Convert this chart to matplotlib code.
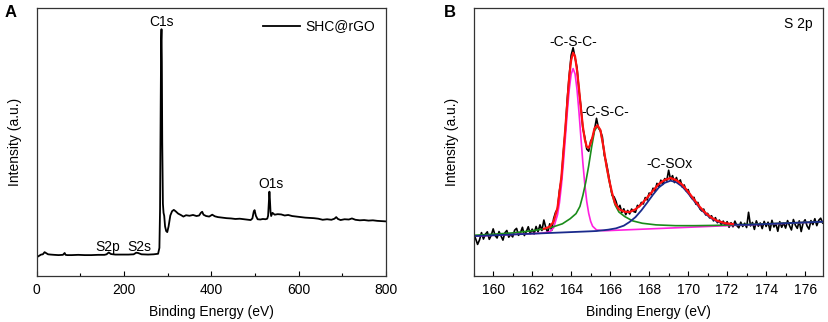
import numpy as np
import matplotlib
matplotlib.use("Agg")
import matplotlib.pyplot as plt
from matplotlib.ticker import MultipleLocator

plt.rcParams["font.family"] = ["Liberation Sans", "DejaVu Sans"]

# ---- Panel A: survey spectrum (intensity in arbitrary units, 0-100 of the axis) ----
survey_ev = [0, 3, 6, 10, 14, 18, 22, 26, 32, 40, 50, 60, 64, 66, 70, 80, 95, 110, 125, 140,
             155, 160, 165, 170, 180, 195, 210, 222, 228, 232, 240, 255, 268, 278, 281, 282.5,
             284, 285, 285.8, 286.6, 287.5, 289, 290.5, 292, 294, 296.5, 299, 302, 306, 310,
             314, 318, 324, 330, 336, 342, 350, 358, 366, 372, 376, 379, 382, 388, 395, 402,
             408, 415, 425, 435, 445, 455, 465, 475, 485, 490, 494, 497, 499, 502, 506, 512,
             518, 524, 528, 530, 531.5, 533, 534, 535.5, 537, 540, 545, 552, 560, 568, 576,
             585, 595, 605, 615, 625, 635, 645, 655, 665, 675, 682, 686, 690, 696, 705, 715,
             722, 730, 740, 750, 760, 770, 780, 790, 800]
survey_int = [7.0, 7.3, 7.6, 8.0, 8.1, 8.9, 8.5, 8.1, 8.0, 7.9, 7.8, 7.9, 8.6, 7.9, 7.8, 7.8,
              7.9, 7.8, 7.8, 7.9, 7.9, 8.1, 8.8, 8.2, 8.0, 8.0, 8.0, 8.1, 8.7, 8.6, 8.1, 8.0,
              8.1, 8.3, 10.5, 25.0, 65.0, 88.0, 92.2, 80.0, 50.0, 27.0, 23.6, 22.5, 18.5, 16.8,
              16.4, 18.5, 22.6, 24.2, 24.7, 24.2, 23.3, 22.8, 22.2, 22.7, 22.5, 22.8, 22.4,
              22.6, 23.6, 24.0, 22.9, 22.4, 22.2, 22.9, 22.3, 22.0, 21.8, 21.6, 21.5, 21.3,
              21.4, 21.2, 21.0, 20.9, 21.5, 24.0, 24.6, 22.5, 21.2, 21.1, 21.3, 21.2, 21.4,
              22.5, 27.0, 31.5, 29.0, 24.0, 22.4, 23.6, 22.9, 23.1, 23.0, 22.6, 22.8, 22.4,
              22.2, 22.0, 21.8, 21.7, 21.6, 21.4, 21.0, 21.2, 21.0, 21.4, 22.0, 21.3, 20.9,
              21.2, 21.1, 21.5, 21.0, 20.8, 20.9, 20.7, 20.8, 20.6, 20.5, 20.4]
survey_peaks = ["C1s", "O1s", "S2p", "S2s"]
survey_peak_pos = [(285, 95.0), (536, 34.3), (161.7, 10.9), (235, 10.9)]

# ---- Panel B: S 2p high resolution ----
s2p_ev = [round(159.0 + 0.1 * i, 1) for i in range(180)]
s2p_raw = [
    15.8, 13.9, 11.8, 13.5, 16.2, 13.8, 15.6, 16.5, 13.7, 15.2,
    17.6, 15.1, 14.2, 16.6, 15.0, 13.4, 16.1, 17.0, 14.5, 15.5,
    14.6, 17.1, 17.8, 15.2, 16.2, 18.2, 15.1, 16.6, 18.4, 15.8,
    17.5, 15.7, 18.5, 16.5, 19.1, 17.0, 20.9, 18.0, 16.2, 19.5,
    17.0, 21.4, 23.8, 25.0, 31.9, 36.2, 46.3, 54.4, 66.1, 74.9,
    82.5, 85.3, 81.6, 77.8, 69.4, 63.3, 55.1, 51.8, 47.4, 46.6,
    50.4, 51.6, 54.8, 58.9, 55.3, 54.2, 52.0, 45.1, 42.5, 38.6,
    34.2, 30.1, 29.6, 27.9, 25.3, 26.4, 23.7, 25.1, 22.9, 24.5,
    23.2, 25.0, 24.1, 23.8, 26.4, 25.9, 27.5, 26.9, 29.3, 28.4,
    31.0, 30.4, 32.8, 31.7, 34.6, 33.3, 35.8, 34.2, 36.4, 35.5,
    39.5, 36.0, 37.5, 34.9, 36.8, 34.6, 35.9, 33.2, 34.0, 31.8,
    32.3, 30.1, 28.9, 29.4, 26.8, 27.5, 25.1, 24.3, 25.0, 22.8,
    23.4, 21.7, 22.5, 20.6, 21.8, 19.9, 20.9, 19.2, 20.5, 18.9,
    20.3, 18.2, 19.9, 18.4, 20.5, 18.8, 18.0, 20.1, 18.5, 19.7,
    18.1, 23.8, 18.7, 20.0, 17.4, 20.6, 18.6, 19.8, 17.7, 20.4,
    18.5, 20.1, 17.0, 20.8, 18.3, 19.5, 16.7, 20.3, 18.2, 19.8,
    17.9, 20.7, 18.8, 17.2, 21.1, 19.0, 17.8, 20.6, 16.6, 19.9,
    21.0, 18.7, 17.5, 20.7, 19.2, 21.4, 18.8, 20.8, 21.6, 19.8,
]

# fitted envelope
fit_ev = [162.6, 162.9, 163.1, 163.3, 163.5, 163.7, 163.9, 164.0, 164.1, 164.2, 164.3, 164.4,
          164.5, 164.6, 164.7, 164.8, 164.9, 165.0, 165.1, 165.2, 165.35, 165.5, 165.65, 165.8,
          165.95, 166.1, 166.25, 166.45, 166.75, 167.0, 167.3, 167.6, 167.9, 168.2, 168.5,
          168.8, 169.1, 169.4, 169.7, 170.0, 170.3, 170.6, 170.9, 171.2, 171.5, 171.9, 172.3]
fit_sum = [17.6, 18.4, 20.3, 25.5, 37.0, 55.1, 74.3, 80.7, 83.4, 82.0, 76.9, 70.1, 62.5, 55.8,
           51.0, 48.3, 47.9, 49.6, 52.1, 55.2, 56.3, 54.5, 48.5, 41.6, 35.8, 31.0, 27.2, 24.9,
           24.0, 23.9, 24.9, 26.8, 29.3, 31.9, 34.4, 35.9, 36.6, 35.8, 34.1, 31.5, 28.6, 25.8,
           23.5, 21.8, 20.6, 19.7, 19.4]

# -C-S-C- component 1 (magenta)
css1_ev = [159, 162.5, 162.9, 163.1, 163.3, 163.4, 163.5, 163.6, 163.7, 163.8, 163.9, 164.0,
           164.1, 164.2, 164.3, 164.4, 164.5, 164.6, 164.7, 164.8, 164.9, 165.0, 165.1, 165.3,
           165.7, 177]
css1_int = [14.9, 16.0, 16.5, 18.0, 22.9, 27.4, 33.9, 42.0, 51.4, 61.1, 69.6, 75.4, 77.5, 75.5,
            69.7, 61.3, 51.7, 42.3, 34.2, 27.8, 23.4, 20.4, 18.6, 17.2, 16.9, 20.3]

# -C-S-C- component 2 (green)
css2_ev = [159, 160, 161, 162, 162.6, 163.05, 163.55, 163.95, 164.25, 164.45, 164.6, 164.75,
           164.9, 165.05, 165.2, 165.35, 165.5, 165.65, 165.8, 165.95, 166.1, 166.25, 166.45,
           166.75, 167.15, 167.65, 168.35, 169.35, 170.35, 171.35, 173.35, 177]
css2_int = [15.2, 15.6, 16.1, 16.9, 17.6, 18.3, 19.5, 21.4, 23.3, 26.0, 30.1, 35.1, 41.2, 48.2,
            54.3, 56.0, 54.4, 48.4, 41.4, 35.5, 30.5, 26.6, 23.9, 22.2, 20.6, 19.7, 19.1, 18.8,
            18.8, 18.9, 19.3, 20.3]

# -C-SOx component on the linear background (blue)
csox_ev = [159, 165.0, 165.3, 165.9, 166.3, 166.7, 167.0, 167.3, 167.6, 167.9, 168.2, 168.5,
           168.8, 169.1, 169.4, 169.7, 170.0, 170.3, 170.6, 170.9, 171.2, 171.5, 171.9, 172.3,
           172.9, 177]
csox_int = [14.9, 16.7, 16.8, 17.3, 17.8, 18.8, 20.2, 22.0, 24.5, 27.4, 30.4, 33.1, 34.8, 35.6,
            35.0, 33.4, 30.9, 28.1, 25.4, 23.1, 21.5, 20.3, 19.5, 19.2, 19.1, 20.3]

s2p_labels = ["-C-S-C-", "-C-S-C-", "-C-SOx"]
s2p_label_pos = [(164.1, 87.4), (165.75, 61.1), (169.05, 41.7)]

fig = plt.figure(figsize=(8.29, 3.22), dpi=100)
ax1 = fig.add_axes([0.0443, 0.1429, 0.4213, 0.8312])
ax2 = fig.add_axes([0.5714, 0.1429, 0.4214, 0.8312])

# Panel A
ax1.plot(survey_ev, survey_int, color="black", lw=1.3, label="SHC@rGO")
for name, (x, y) in zip(survey_peaks, survey_peak_pos):
    ax1.text(x, y, name, ha="center", va="center", fontsize=10)
ax1.set_xlim(0, 800)
ax1.set_ylim(0, 100)
ax1.xaxis.set_major_locator(MultipleLocator(200))
ax1.xaxis.set_minor_locator(MultipleLocator(100))
ax1.legend(loc="upper right", frameon=False, fontsize=10, handlelength=2.6,
           handletextpad=0.4, borderaxespad=0.4)

# Panel B
ax2.plot(s2p_ev, s2p_raw, color="black", lw=1.2)
ax2.plot(css1_ev, css1_int, color="#ff20e0", lw=1.2)
ax2.plot(css2_ev, css2_int, color="#1a8c1a", lw=1.2)
ax2.plot(csox_ev, csox_int, color="#1a2a8c", lw=1.3)
ax2.plot(fit_ev, fit_sum, color="#ff1010", lw=1.6)
for name, (x, y) in zip(s2p_labels, s2p_label_pos):
    ax2.text(x, y, name, ha="center", va="center", fontsize=10)
ax2.text(175.67, 94, "S 2p", ha="center", va="center", fontsize=10)
ax2.set_xlim(159, 176.92)
ax2.set_ylim(0, 100)
ax2.xaxis.set_major_locator(MultipleLocator(2))
ax2.xaxis.set_minor_locator(MultipleLocator(1))

for ax in (ax1, ax2):
    ax.set_yticks([])
    ax.tick_params(axis="x", which="both", direction="in", labelsize=10, pad=5)
    ax.tick_params(axis="x", which="major", length=3.5, width=0.8)
    ax.tick_params(axis="x", which="minor", length=2.5, width=0.8)
    ax.set_xlabel("Binding Energy (eV)", fontsize=10, labelpad=6)
    ax.set_ylabel("Intensity (a.u.)", fontsize=10, labelpad=10.5)
    for sp in ax.spines.values():
        sp.set_color("#333333")
        sp.set_linewidth(0.9)

fig.text(0.006, 0.985, "A", fontsize=12, fontweight="bold", va="top")
fig.text(0.536, 0.985, "B", fontsize=12, fontweight="bold", va="top")

fig.savefig("out.png", dpi=100)
